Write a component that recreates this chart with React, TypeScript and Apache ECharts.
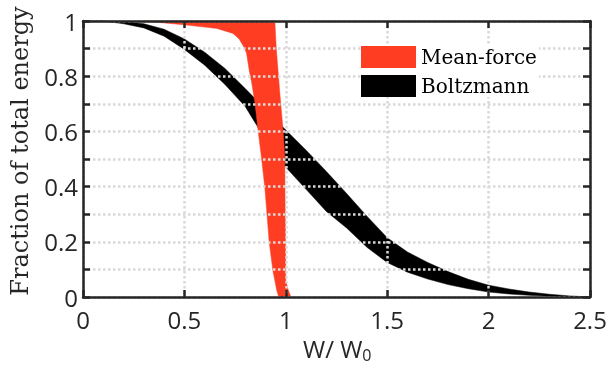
import React, { useEffect, useRef } from "react";
import * as echarts from "echarts";

// Boltzmann band: upper and lower edges sampled on a common x grid
const boltzX = [0, 0.1, 0.2, 0.3, 0.4, 0.5, 0.6, 0.7, 0.8, 0.9, 1.0, 1.1, 1.2, 1.3, 1.4, 1.5, 1.6, 1.7, 1.8, 1.9, 2.0, 2.1, 2.2, 2.3, 2.4, 2.5];
const boltzUpper = [1, 1, 0.998, 0.99, 0.97, 0.935, 0.887, 0.828, 0.755, 0.68, 0.605, 0.532, 0.455, 0.375, 0.293, 0.215, 0.163, 0.125, 0.092, 0.064, 0.043, 0.029, 0.018, 0.01, 0.004, 0];
const boltzLower = [1, 1, 0.99, 0.975, 0.945, 0.897, 0.84, 0.77, 0.69, 0.57, 0.47, 0.39, 0.31, 0.25, 0.18, 0.125, 0.09, 0.065, 0.045, 0.03, 0.018, 0.011, 0.006, 0.003, 0.001, 0];

// Mean-force band edges
const mfUpperX = [0.3, 0.946, 0.953, 0.97, 0.987, 0.995, 0.996, 0.999, 1.0, 1.01, 1.025];
const mfUpperY = [1, 1, 0.9, 0.744, 0.6, 0.51, 0.394, 0.2, 0.06, 0.03, 0];
const mfLowerX = [0.3, 0.4, 0.5, 0.6, 0.66, 0.74, 0.77, 0.79, 0.806, 0.82, 0.831, 0.847, 0.864, 0.88, 0.897, 0.918, 0.937, 0.946, 0.955, 0.965];
const mfLowerY = [1, 0.993, 0.986, 0.978, 0.973, 0.955, 0.935, 0.91, 0.885, 0.82, 0.78, 0.708, 0.6, 0.505, 0.394, 0.2, 0.092, 0.06, 0.025, 0];

const xTicks = { min: 0, max: 2.5, interval: 0.5 };
const yTicks = { min: 0, max: 1, interval: 0.1 };

const seriesNames = ["Mean-force", "Boltzmann"];
const seriesColors = ["#ff3d22", "#000000"];

function bandPolygon(ux: number[], uy: number[], lx: number[], ly: number[]) {
  const pts: number[][] = [];
  for (let i = 0; i < ux.length; i++) pts.push([ux[i], uy[i]]);
  for (let i = lx.length - 1; i >= 0; i--) pts.push([lx[i], ly[i]]);
  return pts;
}

const AXIS_COLOR = "#262626";

export default function App() {
  const ref = useRef<HTMLDivElement>(null);
  useEffect(() => {
    if (!ref.current) return;
    const chart = echarts.init(ref.current, null, { renderer: "svg" });
    const mfPoly = bandPolygon(mfUpperX, mfUpperY, mfLowerX, mfLowerY);
    const bzPoly = bandPolygon(boltzX, boltzUpper, boltzX, boltzLower);

    const makeBand = (name: string, color: string, poly: number[][], z: number) => ({
      type: "custom",
      name,
      xAxisIndex: 0,
      yAxisIndex: 0,
      z,
      itemStyle: { color },
      data: poly,
      encode: { x: 0, y: 1 },
      renderItem: (params: any, api: any) => {
        if (params.dataIndex !== 0) return null;
        const pts = poly.map((p) => api.coord(p));
        return {
          type: "polygon",
          shape: { points: pts },
          style: { fill: color, stroke: color, lineWidth: 0.5 },
        };
      },
    });

    const axisLine = { show: true, onZero: false, lineStyle: { color: AXIS_COLOR, width: 2.5 } };
    const axisTick = { show: true, inside: true, length: 7, lineStyle: { color: AXIS_COLOR, width: 2.5 } };
    const splitLine = { show: true, lineStyle: { color: "#d9d9d9", width: 2.5, type: [2.5, 2.5] } };
    const labelFont = { fontFamily: "Open Sans", fontSize: 24, color: AXIS_COLOR };

    chart.setOption({
      animation: false,
      grid: { left: 83, right: 20, top: 21, bottom: 68 },
      legend: {
        orient: "vertical",
        left: 361,
        top: 46,
        padding: [0, 2, 0, 0],
        itemWidth: 55,
        itemHeight: 22,
        itemGap: 7,
        backgroundColor: "#ffffff",
        z: 10,
        textStyle: { fontFamily: "DejaVu Serif", fontSize: 20, color: "#000" },
        data: [
          { name: seriesNames[0], icon: "rect" },
          { name: seriesNames[1], icon: "rect" },
        ],
      },
      xAxis: [
        {
          type: "value",
          position: "bottom",
          ...xTicks,
          z: 5,
          axisLine,
          axisTick,
          axisLabel: { ...labelFont, margin: 10 },
          splitLine,
        },
        {
          type: "value",
          position: "top",
          ...xTicks,
          z: 5,
          axisLine,
          axisTick,
          axisLabel: { show: false },
          splitLine: { show: false },
        },
      ],
      yAxis: [
        {
          type: "value",
          position: "left",
          ...yTicks,
          z: 5,
          axisLine,
          axisTick,
          axisLabel: {
            ...labelFont,
            margin: 5,
            formatter: (v: number) => {
              const r = Math.round(v * 10);
              return r % 2 === 0 ? String(r / 10) : "";
            },
          },
          splitLine,
        },
        {
          type: "value",
          position: "right",
          ...yTicks,
          z: 5,
          axisLine,
          axisTick,
          axisLabel: { show: false },
          splitLine: { show: false },
        },
      ],
      graphic: [
        {
          type: "text",
          x: 20,
          y: 151,
          rotation: Math.PI / 2,
          style: {
            text: "Fraction of total energy",
            font: "24px 'DejaVu Serif'",
            fill: AXIS_COLOR,
            textAlign: "center",
            textVerticalAlign: "middle",
          },
        },
        {
          type: "text",
          x: 303,
          y: 336,
          style: {
            text: "{a|W/ W}{b|0}",
            fill: AXIS_COLOR,
            textAlign: "left",
            textVerticalAlign: "top",
            rich: {
              a: { fontFamily: "Open Sans", fontSize: 24, lineHeight: 24, verticalAlign: "top", fill: AXIS_COLOR },
              b: { fontFamily: "Open Sans", fontSize: 16, lineHeight: 16, padding: [11, 0, 0, 0], verticalAlign: "top", fill: AXIS_COLOR },
            },
          },
        },
      ],
      series: [
        makeBand(seriesNames[1], seriesColors[1], bzPoly, 1),
        makeBand(seriesNames[0], seriesColors[0], mfPoly, 2),
      ],
    });
    return () => chart.dispose();
  }, []);
  return (
    <div
      ref={ref}
      style={{ position: "fixed", left: 0, top: 0, width: 610, height: 365 }}
    />
  );
}
